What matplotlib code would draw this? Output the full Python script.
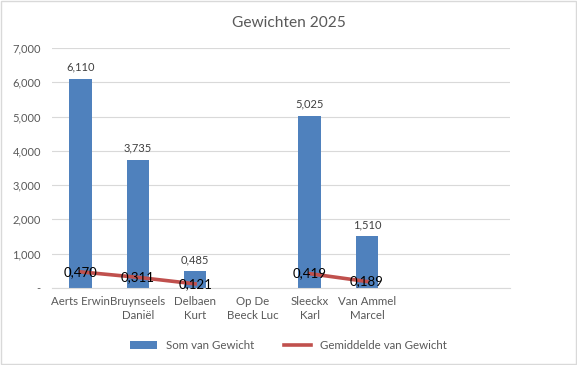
import numpy as np
import matplotlib.pyplot as plt

categories = ["Aerts Erwin", "Bruynseels\nDaniël", "Delbaen\nKurt", "Op De\nBeeck Luc",
              "Sleeckx\nKarl", "Van Ammel\nMarcel"]
som = [6110, 3735, 485, np.nan, 5025, 1510]
som_labels = ["6,110", "3,735", "0,485", "", "5,025", "1,510"]
gemiddelde = [470, 311, 121, np.nan, 419, 189]
gem_labels = ["0,470", "0,311", "0,121", "", "0,419", "0,189"]
yticks = [0, 1000, 2000, 3000, 4000, 5000, 6000, 7000]
ytick_labels = ["-", "1,000", "2,000", "3,000", "4,000", "5,000", "6,000", "7,000"]

plt.rcParams["font.family"] = ["Lato", "DejaVu Sans"]
grey = "#595959"
bar_col = "#4F81BD"
line_col = "#C0504D"

fig = plt.figure(figsize=(5.77, 3.65), dpi=100, facecolor="white")
ax = fig.add_axes([0.09, 0.211, 0.794, 0.6575])

x = np.arange(len(categories))
bars = ax.bar(x, som, width=0.39, color=bar_col, label="Som van Gewicht", zorder=2)
line, = ax.plot(x, gemiddelde, color=line_col, lw=2.6, label="Gemiddelde van Gewicht", zorder=3)

for xi, v, s in zip(x, som, som_labels):
    if s:
        ax.text(xi, v + 180, s, ha="center", va="bottom", fontsize=8, color="#404040")
for xi, v, s in zip(x, gemiddelde, gem_labels):
    if s:
        ax.text(xi, v, s, ha="center", va="center", fontsize=9.5, color="black", zorder=4)

ax.set_xlim(-0.5, 7.5)
ax.set_ylim(0, 7000)
ax.set_yticks(yticks)
ax.set_yticklabels(ytick_labels, fontsize=8, color=grey)
ax.set_xticks(x)
ax.set_xticklabels(categories, fontsize=8.3, color=grey, linespacing=1.35)
ax.tick_params(length=0, pad=6)
ax.tick_params(axis="y", pad=8)
ax.grid(axis="y", color="#D9D9D9", lw=0.8, zorder=0)
for sp in ["top", "right", "left"]:
    ax.spines[sp].set_visible(False)
ax.spines["bottom"].set_color("#D9D9D9")

fig.suptitle("Gewichten 2025", y=0.955, fontsize=11.2, color=grey)
fig.legend(handles=[bars, line], loc="lower center", bbox_to_anchor=(0.5, 0.01), ncol=2,
           frameon=False, fontsize=8.3, labelcolor=grey, handlelength=2.3,
           handleheight=0.8, columnspacing=2.6)

fig.patches.append(plt.Rectangle((0.002, 0.003), 0.996, 0.994, transform=fig.transFigure,
                                 fill=False, edgecolor="#D9D9D9", lw=1))
fig.savefig("out.png", dpi=100)
